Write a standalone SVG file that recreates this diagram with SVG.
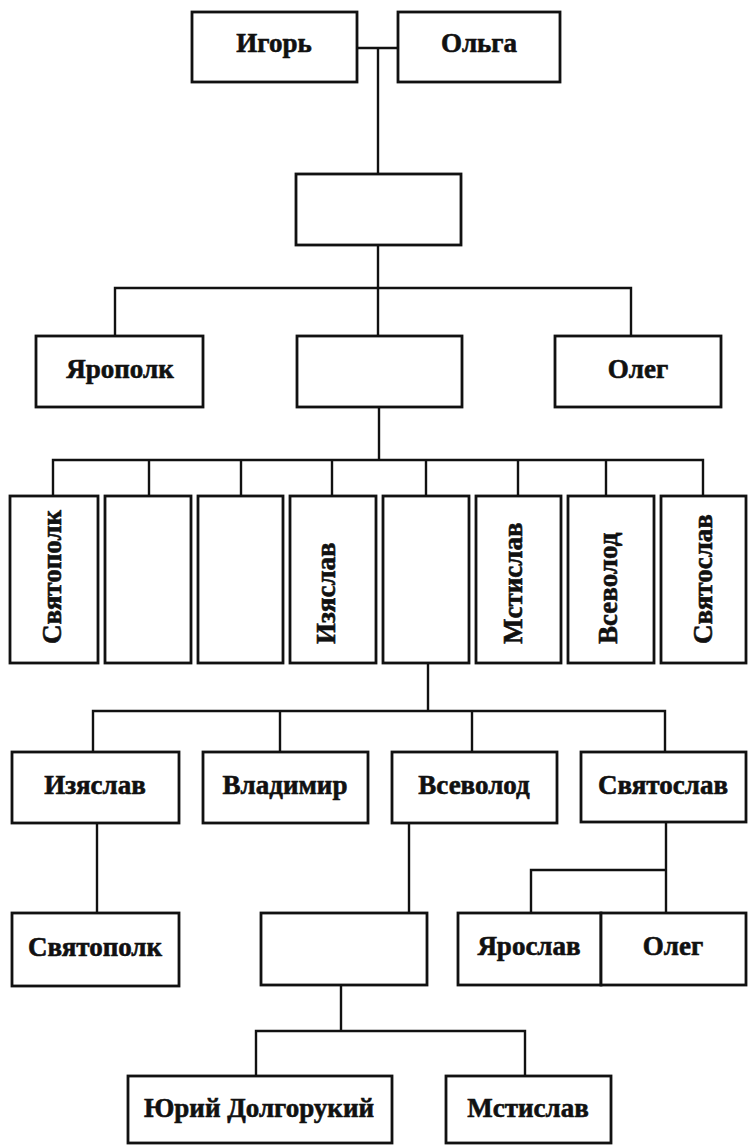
<svg xmlns="http://www.w3.org/2000/svg" width="748" height="1145" viewBox="0 0 748 1145">
<style>
.box{fill:#fff;stroke:#111;stroke-width:2.8}
.ln{fill:none;stroke:#111;stroke-width:2.4}
text{font-family:"Liberation Serif","Times New Roman",serif;font-weight:bold;font-size:27px;fill:#111;stroke:#111;stroke-width:0.6}
.h{text-anchor:middle}
</style>
<rect width="748" height="1145" fill="#fff"/>
<g id="connectors">
<path class="ln" d="M357 48 H398"/>
<path class="ln" d="M378 48 V174"/>
<path class="ln" d="M378 245 V288"/>
<path class="ln" d="M115 336 V288 H631 V336 M378 288 V336"/>
<path class="ln" d="M379 407 V460"/>
<path class="ln" d="M53 496 V460 H703 V496 M149 460 V496 M241 460 V496 M332 460 V496 M426 460 V496 M518 460 V496 M606 460 V496"/>
<path class="ln" d="M428 663 V711"/>
<path class="ln" d="M93 752 V711 H665 V752 M280 711 V752 M472 711 V752"/>
<path class="ln" d="M97 823 V913"/>
<path class="ln" d="M409 823 V913"/>
<path class="ln" d="M666 822 V913 M531 913 V870 H666"/>
<path class="ln" d="M341 985 V1031 M256 1076 V1031 H525 V1076"/>
</g>
<g id="igor"><rect class="box" x="192" y="12" width="165" height="70"/><text class="h" x="274" y="52">Игорь</text></g>
<g id="olga"><rect class="box" x="398" y="12" width="162" height="70"/><text class="h" x="479" y="52">Ольга</text></g>
<g id="n-empty1"><rect class="box" x="296" y="174" width="165" height="71"/></g>
<g id="yaropolk"><rect class="box" x="36" y="336" width="167" height="71"/><text class="h" x="120" y="378">Ярополк</text></g>
<g id="n-empty2"><rect class="box" x="297" y="336" width="165" height="71"/></g>
<g id="oleg1"><rect class="box" x="555" y="336" width="166" height="71"/><text class="h" x="638" y="378">Олег</text></g>
<g id="svyatopolk1"><rect class="box" x="10" y="496" width="88" height="167"/><text transform="translate(61,644) rotate(-90)">Святополк</text></g>
<g id="n-empty3"><rect class="box" x="105" y="496" width="86" height="167"/></g>
<g id="n-empty4"><rect class="box" x="198" y="496" width="85" height="167"/></g>
<g id="izyaslav1"><rect class="box" x="290" y="496" width="86" height="167"/><text transform="translate(335,644) rotate(-90)">Изяслав</text></g>
<g id="n-empty5"><rect class="box" x="383" y="496" width="86" height="167"/></g>
<g id="mstislav1"><rect class="box" x="476" y="496" width="85" height="167"/><text transform="translate(522,644) rotate(-90)">Мстислав</text></g>
<g id="vsevolod1"><rect class="box" x="568" y="496" width="86" height="167"/><text transform="translate(617,644) rotate(-90)">Всеволод</text></g>
<g id="svyatoslav1"><rect class="box" x="661" y="496" width="85" height="167"/><text transform="translate(712,644) rotate(-90)">Святослав</text></g>
<g id="izyaslav2"><rect class="box" x="12" y="752" width="167" height="71"/><text class="h" x="95" y="794">Изяслав</text></g>
<g id="vladimir"><rect class="box" x="203" y="752" width="165" height="71"/><text class="h" x="285" y="794">Владимир</text></g>
<g id="vsevolod2"><rect class="box" x="392" y="752" width="165" height="71"/><text class="h" x="474" y="794">Всеволод</text></g>
<g id="svyatoslav2"><rect class="box" x="581" y="752" width="165" height="70"/><text class="h" x="663" y="794">Святослав</text></g>
<g id="svyatopolk2"><rect class="box" x="12" y="913" width="167" height="73"/><text class="h" x="95" y="956">Святополк</text></g>
<g id="n-empty6"><rect class="box" x="261" y="913" width="166" height="72"/></g>
<g id="yaroslav"><rect class="box" x="458" y="913" width="143" height="72"/><text class="h" x="529" y="955">Ярослав</text></g>
<g id="oleg2"><rect class="box" x="601" y="913" width="145" height="72"/><text class="h" x="673" y="955">Олег</text></g>
<g id="yuri"><rect class="box" x="128" y="1076" width="264" height="67"/><text class="h" x="259" y="1117">Юрий Долгорукий</text></g>
<g id="mstislav2"><rect class="box" x="446" y="1076" width="165" height="67"/><text class="h" x="528" y="1117">Мстислав</text></g>
</svg>
